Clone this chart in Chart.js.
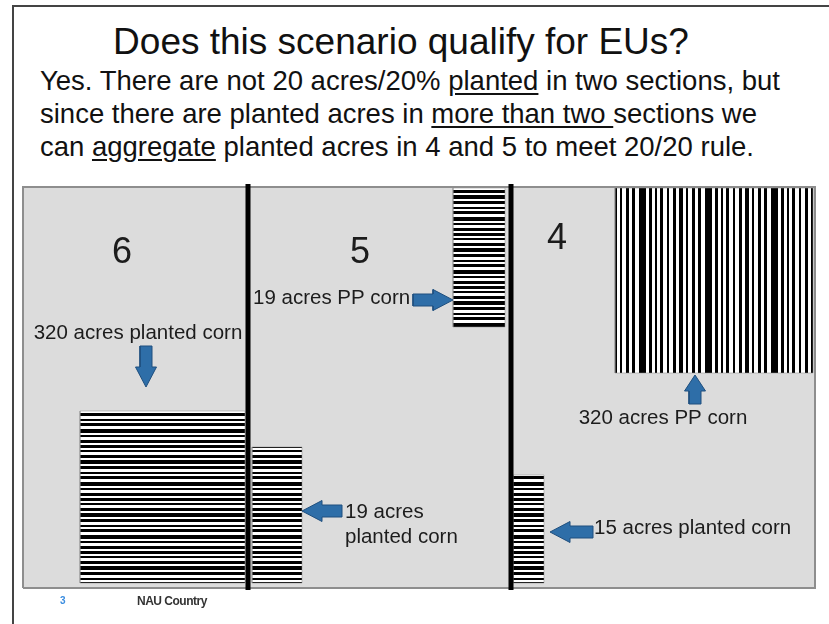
<!DOCTYPE html>
<html>
<head>
<meta charset="utf-8">
<script src="https://cdn.jsdelivr.net/npm/chart.js@4/dist/chart.umd.min.js"></script>
<style>
  body { margin: 0; width: 829px; height: 624px; background: #fff; overflow: hidden; position: relative; font-family: "Liberation Sans", Arial, sans-serif; color: #111; }
  #frame { position: absolute; left: 12px; top: 5px; width: 830px; height: 640px; border-left: 2px solid #444; border-top: 2px solid #444; }
  #title { position: absolute; left: 0; width: 802px; top: 23px; text-align: center; font-size: 37px; line-height: 37px; }
  #body { position: absolute; left: 40px; top: 64px; font-size: 27.5px; line-height: 33px; white-space: nowrap; }
  #body u { text-underline-offset: 3px; }
  #map { position: absolute; left: 0; top: 180px; }
  #pageNo { position: absolute; left: 60px; top: 595px; font-size: 10px; font-weight: bold; color: #3b8de0; }
  #footer { position: absolute; left: 137px; top: 594px; font-size: 12px; font-weight: bold; color: #333; letter-spacing: -0.5px; }
</style>
</head>
<body>
<div id="frame"></div>
<div id="title">Does this scenario qualify for EUs?</div>
<div id="body">Yes. There are not 20 acres/20% <u>planted</u> in two sections, but<br>since there are planted acres in <u>more than two </u>sections we<br>can <u>aggregate</u> planted acres in 4 and 5 to meet 20/20 rule.</div>
<canvas id="map" width="829" height="444"></canvas>
<div id="pageNo">3</div>
<div id="footer">NAU Country</div>

<script>
// Map units: 1 unit = 1 px, origin at the lower left corner of the grey box
const boxX = [0, 792];
const boxY = [0, 401];

// Section borders (between 6|5 and 5|4)
const sectionLines = [225, 488];
const sectionLineY = [-2, 404];

// Corn fields: planted (6, 5 lower, 4 lower) and prevented planting (5 upper, 4 upper)
const fieldNames = ['6 planted', '5 planted', '5 PP', '4 PP', '4 planted'];
const fieldX0 = [57, 229, 430, 592, 490];
const fieldX1 = [222, 279, 482, 790, 521];
const fieldY0 = [5, 5, 261, 215, 5];
const fieldY1 = [177, 141, 400, 400, 113];
const fieldStripes = ['h', 'h', 'h', 'v', 'h'];

// Labels on the map
const labelTexts = ['6', '5', '4', '320 acres planted corn', '19 acres PP corn', '320 acres PP corn', '19 acres', 'planted corn', '15 acres planted corn'];
const labelX = [99, 337, 534, 115, 230, 640, 322, 322, 571];
const labelY = [335, 335, 349, 255, 290, 170, 76, 51, 60];
const labelAlign = ['center', 'center', 'center', 'center', 'left', 'center', 'left', 'left', 'left'];
const labelSize = [36, 36, 36, 20.5, 20.5, 20.5, 20.5, 20.5, 20.5];

// Arrows: tip position, direction, total length
const arrowTipX = [123, 430, 672, 279, 527];
const arrowTipY = [201, 288, 213, 77, 56];
const arrowDir = ['down', 'right', 'up', 'left', 'left'];
const arrowLen = [41, 40, 29, 40, 43];

// Stripe runs for the hatch patterns (black, white, black, white ...)
const hStripeRuns = [3, 2, 2, 3, 3, 2, 4, 2, 3, 3, 2, 2, 3, 3, 4, 2, 2, 3, 3, 2];
const vStripeRuns = [3, 4, 2, 4, 3, 3, 4, 3, 2, 4, 3, 3, 3, 4, 7, 3, 3, 3, 2, 3];

function makeStripes(ctx, vertical) {
  const runs = vertical ? vStripeRuns : hStripeRuns;
  const total = runs.reduce((a, b) => a + b, 0);
  const c = document.createElement('canvas');
  c.width = vertical ? total : 8;
  c.height = vertical ? 8 : total;
  const g = c.getContext('2d');
  g.fillStyle = '#fff';
  g.fillRect(0, 0, c.width, c.height);
  g.fillStyle = '#000';
  let pos = 0;
  runs.forEach((r, i) => {
    if (i % 2 === 0) {
      if (vertical) g.fillRect(pos, 0, r, c.height);
      else g.fillRect(0, pos, c.width, r);
    }
    pos += r;
  });
  return ctx.createPattern(c, 'repeat');
}

function rectPoints(x0, x1, y0, y1) {
  return [{x: x0, y: y0}, {x: x1, y: y0}, {x: x1, y: y1}, {x: x0, y: y1}, {x: x0, y: y0}];
}

// Block arrow outline, built along its axis then rotated to the direction
function arrowPoints(tx, ty, dir, len) {
  const head = len >= 40 ? 20 : 16, headHalf = 10.5, shaftHalf = 6;
  const local = [[0, 0], [-head, headHalf], [-head, shaftHalf], [-len, shaftHalf], [-len, -shaftHalf], [-head, -shaftHalf], [-head, -headHalf], [0, 0]];
  const rot = {right: [1, 0], left: [-1, 0], up: [0, 1], down: [0, -1]}[dir];
  return local.map(([a, b]) => ({x: tx + a * rot[0] - b * rot[1], y: ty + a * rot[1] + b * rot[0]}));
}

function createMap() {
  const ctx = document.getElementById('map').getContext('2d');
  const hPattern = makeStripes(ctx, false);
  const vPattern = makeStripes(ctx, true);

  const datasets = [];

  datasets.push({
    label: 'box',
    data: rectPoints(boxX[0], boxX[1], boxY[0], boxY[1]),
    backgroundColor: '#dcdcdc',
    borderColor: '#8e8e8e',
    borderWidth: 2,
    fill: 'shape',
    order: 10
  });

  fieldNames.forEach((name, i) => {
    datasets.push({
      label: name,
      data: rectPoints(fieldX0[i], fieldX1[i], fieldY0[i], fieldY1[i]),
      backgroundColor: fieldStripes[i] === 'v' ? vPattern : hPattern,
      borderColor: 'rgba(140,140,140,0.5)',
      borderWidth: 1,
      fill: 'shape',
      order: 5
    });
  });

  sectionLines.forEach((x, i) => {
    datasets.push({
      label: 'section line ' + i,
      data: [{x: x, y: sectionLineY[0]}, {x: x, y: sectionLineY[1]}],
      borderColor: '#000',
      borderWidth: 5,
      fill: false,
      order: 2
    });
  });

  arrowTipX.forEach((x, i) => {
    datasets.push({
      label: 'arrow ' + i,
      data: arrowPoints(x, arrowTipY[i], arrowDir[i], arrowLen[i]),
      backgroundColor: '#2e6ea8',
      borderColor: '#1f4f7e',
      borderWidth: 1,
      fill: 'shape',
      order: 1
    });
  });

  // Draws the map texts at their map positions
  const mapLabels = {
    id: 'mapLabels',
    afterDatasetsDraw(chart) {
      const g = chart.ctx;
      const xs = chart.scales.x, ys = chart.scales.y;
      g.save();
      g.fillStyle = '#1c1c1c';
      g.textBaseline = 'middle';
      labelTexts.forEach((t, i) => {
        g.font = labelSize[i] + 'px "Liberation Sans", Arial, sans-serif';
        g.textAlign = labelAlign[i];
        g.fillText(t, xs.getPixelForValue(labelX[i]), ys.getPixelForValue(labelY[i]));
      });
      g.restore();
    }
  };

  new Chart(ctx, {
    type: 'scatter',
    data: { datasets: datasets },
    options: {
      responsive: false,
      animation: false,
      showLine: true,
      elements: {
        point: { radius: 0, hoverRadius: 0 },
        line: { tension: 0, borderCapStyle: 'butt' }
      },
      layout: { padding: 0 },
      plugins: {
        legend: { display: false },
        tooltip: { enabled: false }
      },
      events: [],
      scales: {
        x: { type: 'linear', min: -23, max: 806, display: false },
        y: { type: 'linear', min: -36, max: 408, display: false }
      }
    },
    plugins: [mapLabels]
  });
}

document.addEventListener('DOMContentLoaded', createMap);
</script>
</body>
</html>
